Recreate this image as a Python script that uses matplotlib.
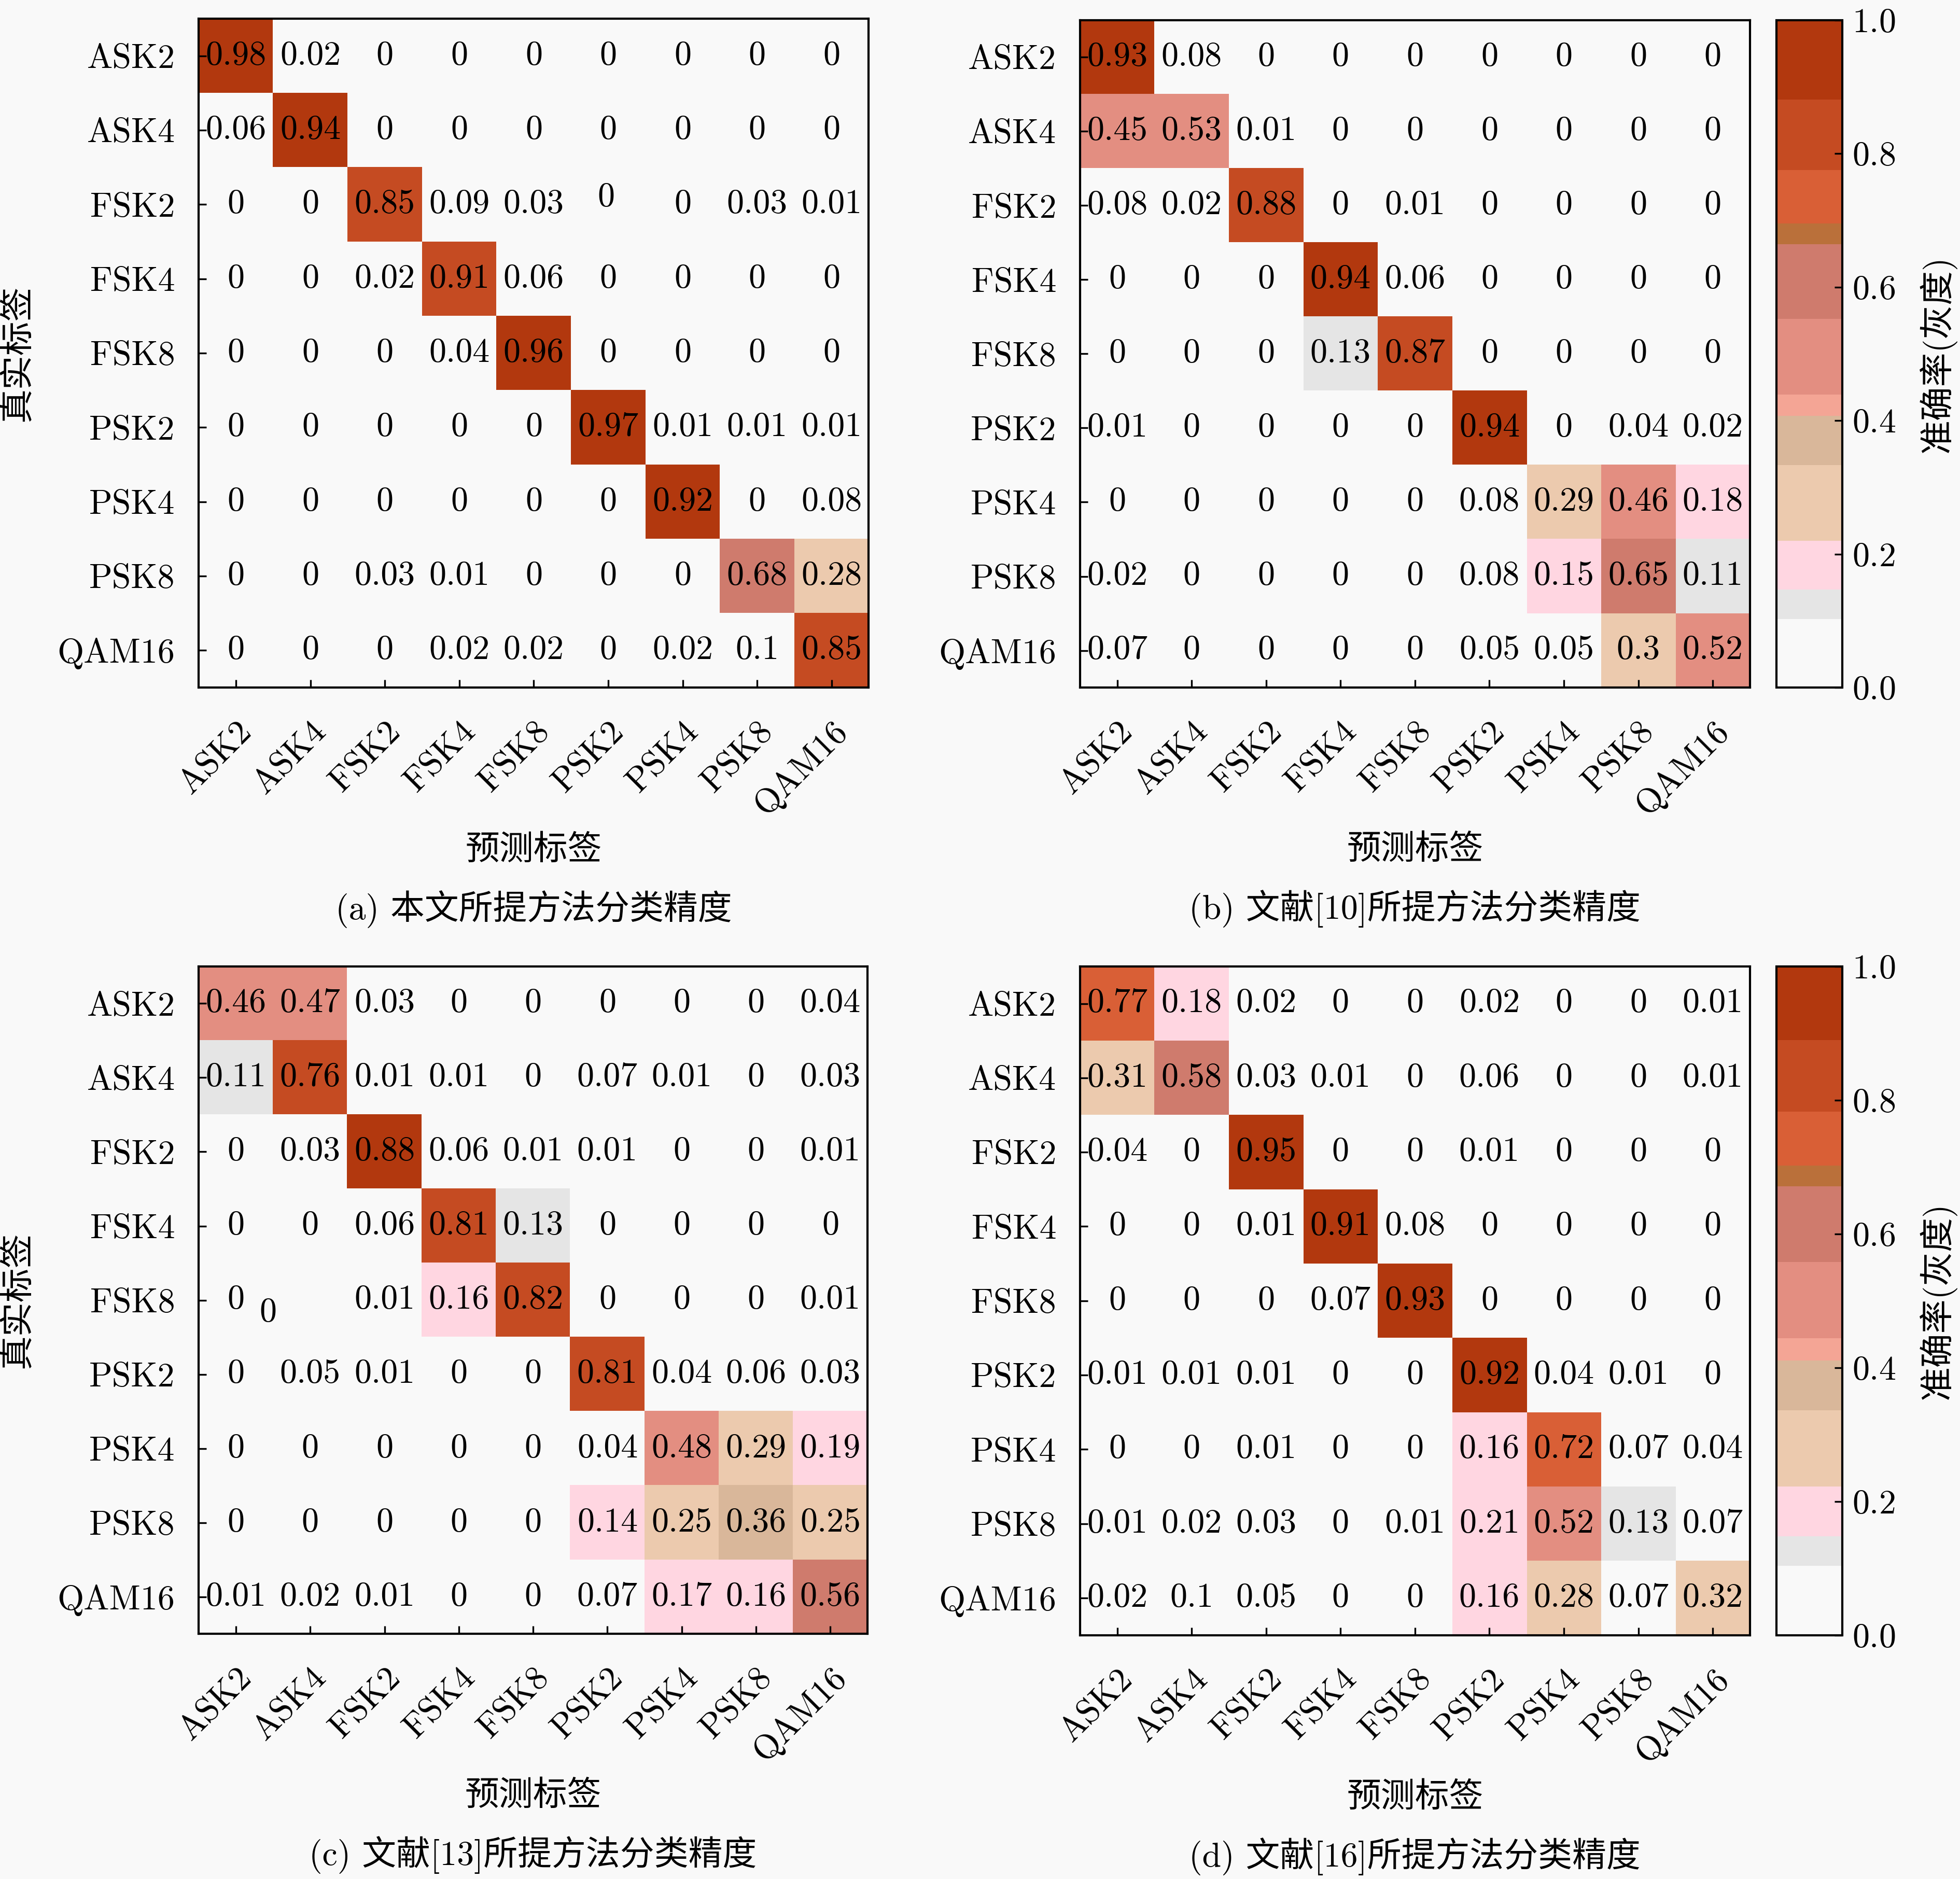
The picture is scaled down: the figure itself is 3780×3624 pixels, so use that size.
import numpy as np
import matplotlib
matplotlib.use("Agg")
import matplotlib.pyplot as plt
from matplotlib.colors import ListedColormap, Normalize

plt.rcParams['font.family'] = ['cmr10', 'Noto Sans CJK SC']
plt.rcParams['axes.formatter.use_mathtext'] = True

classes = ['ASK2', 'ASK4', 'FSK2', 'FSK4', 'FSK8', 'PSK2', 'PSK4', 'PSK8', 'QAM16']

# rows: true label, cols: predicted label
acc_ours = [
    [0.98, 0.02, 0, 0, 0, 0, 0, 0, 0],
    [0.06, 0.94, 0, 0, 0, 0, 0, 0, 0],
    [0, 0, 0.85, 0.09, 0.03, 0, 0, 0.03, 0.01],
    [0, 0, 0.02, 0.91, 0.06, 0, 0, 0, 0],
    [0, 0, 0, 0.04, 0.96, 0, 0, 0, 0],
    [0, 0, 0, 0, 0, 0.97, 0.01, 0.01, 0.01],
    [0, 0, 0, 0, 0, 0, 0.92, 0, 0.08],
    [0, 0, 0.03, 0.01, 0, 0, 0, 0.68, 0.28],
    [0, 0, 0, 0.02, 0.02, 0, 0.02, 0.1, 0.85],
]
acc_ref10 = [
    [0.93, 0.08, 0, 0, 0, 0, 0, 0, 0],
    [0.45, 0.53, 0.01, 0, 0, 0, 0, 0, 0],
    [0.08, 0.02, 0.88, 0, 0.01, 0, 0, 0, 0],
    [0, 0, 0, 0.94, 0.06, 0, 0, 0, 0],
    [0, 0, 0, 0.13, 0.87, 0, 0, 0, 0],
    [0.01, 0, 0, 0, 0, 0.94, 0, 0.04, 0.02],
    [0, 0, 0, 0, 0, 0.08, 0.29, 0.46, 0.18],
    [0.02, 0, 0, 0, 0, 0.08, 0.15, 0.65, 0.11],
    [0.07, 0, 0, 0, 0, 0.05, 0.05, 0.3, 0.52],
]
acc_ref13 = [
    [0.46, 0.47, 0.03, 0, 0, 0, 0, 0, 0.04],
    [0.11, 0.76, 0.01, 0.01, 0, 0.07, 0.01, 0, 0.03],
    [0, 0.03, 0.88, 0.06, 0.01, 0.01, 0, 0, 0.01],
    [0, 0, 0.06, 0.81, 0.13, 0, 0, 0, 0],
    [0, 0, 0.01, 0.16, 0.82, 0, 0, 0, 0.01],
    [0, 0.05, 0.01, 0, 0, 0.81, 0.04, 0.06, 0.03],
    [0, 0, 0, 0, 0, 0.04, 0.48, 0.29, 0.19],
    [0, 0, 0, 0, 0, 0.14, 0.25, 0.36, 0.25],
    [0.01, 0.02, 0.01, 0, 0, 0.07, 0.17, 0.16, 0.56],
]
acc_ref16 = [
    [0.77, 0.18, 0.02, 0, 0, 0.02, 0, 0, 0.01],
    [0.31, 0.58, 0.03, 0.01, 0, 0.06, 0, 0, 0.01],
    [0.04, 0, 0.95, 0, 0, 0.01, 0, 0, 0],
    [0, 0, 0.01, 0.91, 0.08, 0, 0, 0, 0],
    [0, 0, 0, 0.07, 0.93, 0, 0, 0, 0],
    [0.01, 0.01, 0.01, 0, 0, 0.92, 0.04, 0.01, 0],
    [0, 0, 0.01, 0, 0, 0.16, 0.72, 0.07, 0.04],
    [0.01, 0.02, 0.03, 0, 0.01, 0.21, 0.52, 0.13, 0.07],
    [0.02, 0.1, 0.05, 0, 0, 0.16, 0.28, 0.07, 0.32],
]
captions = ['(a) 本文所提方法分类精度', '(b) 文献[10]所提方法分类精度',
            '(c) 文献[13]所提方法分类精度', '(d) 文献[16]所提方法分类精度']

# stepped colour map (edges in normalised units)
band_edges = [0, 0.110, 0.156, 0.234, 0.354, 0.433, 0.467, 0.587, 0.706, 0.739, 0.824, 0.9375]
band_colors = ['#F9F9F9', '#E5E5E5', '#FFD6E1', '#ECCAAE', '#D9B79A', '#F4A595',
               '#E38E81', '#CF7B6D', '#BA703A', '#D95F36', '#C54B22', '#B2380E']
t = (np.arange(1000) + 0.5) / 1000
idx = np.searchsorted(band_edges, t, side='right') - 1
cmap = ListedColormap(np.array(band_colors)[idx])

FS = 15.8
BG = '#F9F9F9'

fig = plt.figure(figsize=(12.6, 12.08), dpi=300, facecolor=BG)

W, H = 1568.0, 1503.0
def frac(l, r, top, bot):
    return [l / W, 1 - bot / H, (r - l) / W, (bot - top) / H]

ax_pos = [frac(159, 695, 15, 550), frac(864, 1400, 16, 550),
          frac(159, 694, 773, 1307), frac(864, 1400, 773, 1308)]
cb_pos = [frac(1421, 1474, 16, 550), frac(1421, 1474, 773, 1308)]

# a few annotation labels sit off-centre in the original
nudges = {(0, 2, 5): (-0.03, -0.09), (2, 4, 1): (-0.57, 0.17)}

panels = [acc_ours, acc_ref10, acc_ref13, acc_ref16]
for k, mat in enumerate(panels):
    data = np.array(mat)
    ax = fig.add_axes(ax_pos[k])
    ax.set_facecolor(BG)
    im = ax.imshow(data, cmap=cmap, norm=Normalize(0, data.max()),
                   aspect='auto', interpolation='nearest')
    for i in range(9):
        for j in range(9):
            dx, dy = nudges.get((k, i, j), (0, 0))
            ax.text(j + dx, i + dy, f"{data[i, j]:g}", ha='center', va='center',
                    fontsize=FS, color='black')
    ax.set_xticks(range(9))
    ax.set_yticks(range(9))
    ax.set_yticklabels(classes, fontsize=FS)
    ax.set_xticklabels(classes, fontsize=FS, rotation=45, ha='right',
                       va='top', rotation_mode='anchor')
    ax.tick_params(direction='in', length=3.5, width=0.8, top=False, right=False)
    ax.tick_params(axis='y', pad=11)
    ax.tick_params(axis='x', pad=13)
    for sp in ax.spines.values():
        sp.set_linewidth(1.0)
    ax.set_xlabel('预测标签', fontsize=FS)
    ax.xaxis.set_label_coords(0.5, -0.22)
    ax.text(0.5, -0.331, captions[k], transform=ax.transAxes, ha='center',
            va='center', fontsize=FS)
    if k % 2 == 0:
        ax.set_ylabel('真实标签', fontsize=FS)
        ax.yaxis.set_label_coords(-0.246, 0.5)
    else:
        cax = fig.add_axes(cb_pos[k // 2])
        cb = fig.colorbar(im, cax=cax, boundaries=np.linspace(0, 1, 1001))
        cb.set_ticks([0, 0.2, 0.4, 0.6, 0.8, 1.0])
        cb.ax.tick_params(direction='in', length=3.5, width=0.8, labelsize=FS, pad=4.5)
        cb.outline.set_linewidth(1.0)
        cb.set_label('准确率(灰度)', fontsize=FS)
        cb.ax.yaxis.set_label_coords(2.15, 0.5)

fig.savefig('out.png', dpi=300, facecolor=BG)
